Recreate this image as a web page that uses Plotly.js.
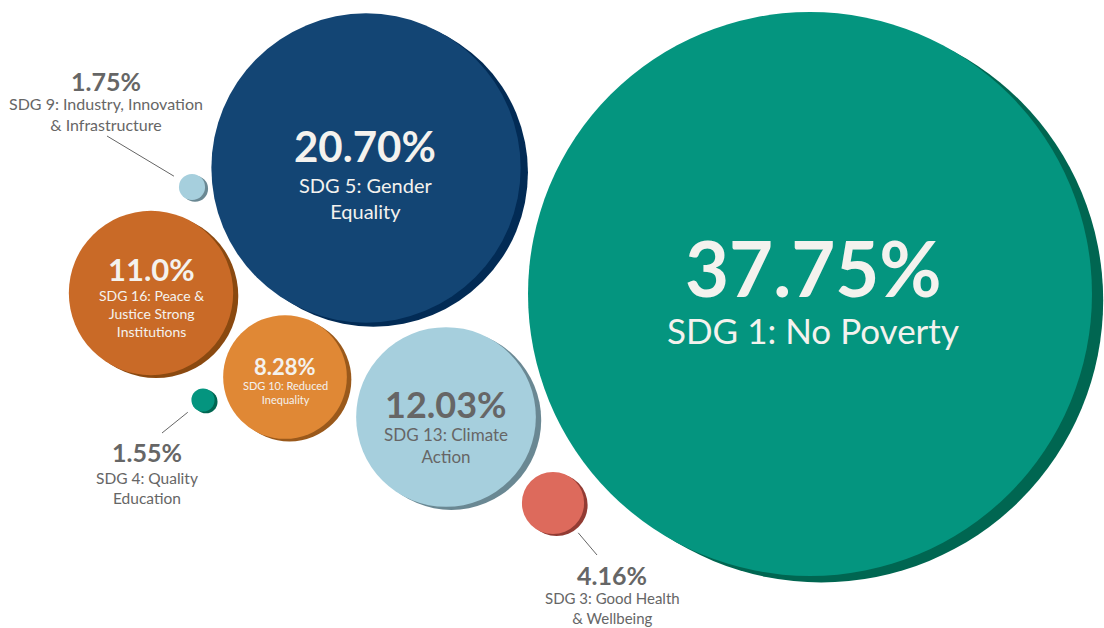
<!DOCTYPE html>
<html>
<head>
<meta charset="utf-8">
<script src="https://cdn.plot.ly/plotly-3.0.1.min.js"></script>
<style>html,body{margin:0;padding:0;background:#fff;}#chart{width:1104px;height:628px;}</style>
</head>
<body>
<div id="chart"></div>
<script>
// ---- data ----
const goals = ["SDG 1: No Poverty", "SDG 5: Gender<br>Equality", "SDG 13: Climate<br>Action",
  "SDG 16: Peace &<br>Justice Strong<br>Institutions", "SDG 10: Reduced<br>Inequality",
  "SDG 3: Good Health<br>& Wellbeing", "SDG 9: Industry, Innovation<br>& Infrastructure",
  "SDG 4: Quality<br>Education"];
const shares = [37.75, 20.70, 12.03, 11.0, 8.28, 4.16, 1.75, 1.55];
const shareLabels = ["37.75%", "20.70%", "12.03%", "11.0%", "8.28%", "4.16%", "1.75%", "1.55%"];

// ---- layout of the packed bubbles (pixel space) ----
const posX = [810, 366, 446, 151, 285, 553, 192, 203];
const posY = [294, 168, 417, 293, 377, 503, 187, 400];
const DIAM_PER_PCT = 14.94;
// text placement
const valX = [813, 365, 446, 151, 285, 612, 106, 147];
const valY = [267, 146, 404, 269, 366, 575, 81, 452];
const valFont = [76, 42, 36, 31, 22, 25, 25, 25];
const labY = [330, 185, 434, 295, 385, 598, 104, 478];
const labFont = [35, 20, 17, 14, 11, 15, 16, 15.5];
const outside = [false, false, false, false, false, true, true, true];
// callout ends for outside labels
const calloutEndX = [null, null, null, null, null, 597, 107, 162];
const calloutEndY = [null, null, null, null, null, 555, 136, 433];

// ---- style ----
const fill = ["#04957F", "#134574", "#A6CFDD", "#C96A27", "#E08835", "#DD6A5C", "#A6CFDD", "#04957F"];
const shade = ["#006651", "#022B55", "#6A8893", "#8A4910", "#9A591B", "#923B33", "#6A8893", "#006651"];
const txtCol = ["#F4F2EE", "#F4F2EE", "#666666", "#F4F2EE", "#F4F2EE", "#666666", "#666666", "#666666"];
const FONT = "Lato, 'Noto Sans', sans-serif";

const diam = shares.map(v => v * DIAM_PER_PCT);
const rad = diam.map(d => d / 2);
const off = rad.map(r => 3 + 0.035 * r);
const shX = posX.map((x, i) => x + off[i] * 0.87);
const shY = posY.map((y, i) => y + off[i] * 0.5);

const traces = [
  {type: "scatter", mode: "markers", x: shX, y: shY, hoverinfo: "skip",
   marker: {size: diam, sizemode: "diameter", color: shade, opacity: 1, line: {width: 0}}},
  {type: "scatter", mode: "markers", x: posX, y: posY, text: goals, hoverinfo: "text",
   marker: {size: diam, sizemode: "diameter", color: fill, opacity: 1, line: {width: 0}}}
];

const annotations = [];
const shapes = [];
shares.forEach((v, i) => {
  annotations.push({x: valX[i], y: valY[i], xref: "x", yref: "y", showarrow: false,
    xanchor: "center", yanchor: "middle", borderpad: 0, text: "<b>" + shareLabels[i] + "</b>",
    font: {family: FONT, size: valFont[i], color: txtCol[i]}});
  const nLines = goals[i].split("<br>").length;
  annotations.push({x: valX[i], y: labY[i] + (nLines - 1) * 1.3 * labFont[i] / 2, xref: "x", yref: "y",
    showarrow: false, xanchor: "center", yanchor: "middle", borderpad: 0, text: goals[i],
    font: {family: FONT, size: labFont[i], color: txtCol[i]}});
  if (outside[i]) {
    const dx = calloutEndX[i] - posX[i], dy = calloutEndY[i] - posY[i];
    const len = Math.hypot(dx, dy);
    const sx = posX[i] + dx / len * (rad[i] + 8), sy = posY[i] + dy / len * (rad[i] + 8);
    shapes.push({type: "line", xref: "x", yref: "y", x0: sx, y0: sy, x1: calloutEndX[i], y1: calloutEndY[i],
      line: {color: "#666666", width: 1}});
  }
});

const layout = {
  width: 1104, height: 628,
  margin: {l: 0, r: 0, t: 0, b: 0, pad: 0},
  paper_bgcolor: "#ffffff", plot_bgcolor: "#ffffff",
  showlegend: false,
  xaxis: {range: [0, 1104], visible: false, fixedrange: true},
  yaxis: {range: [628, 0], visible: false, fixedrange: true},
  annotations: annotations,
  shapes: shapes,
  font: {family: FONT}
};

Plotly.newPlot("chart", traces, layout, {displayModeBar: false, staticPlot: true});
</script>
</body>
</html>
